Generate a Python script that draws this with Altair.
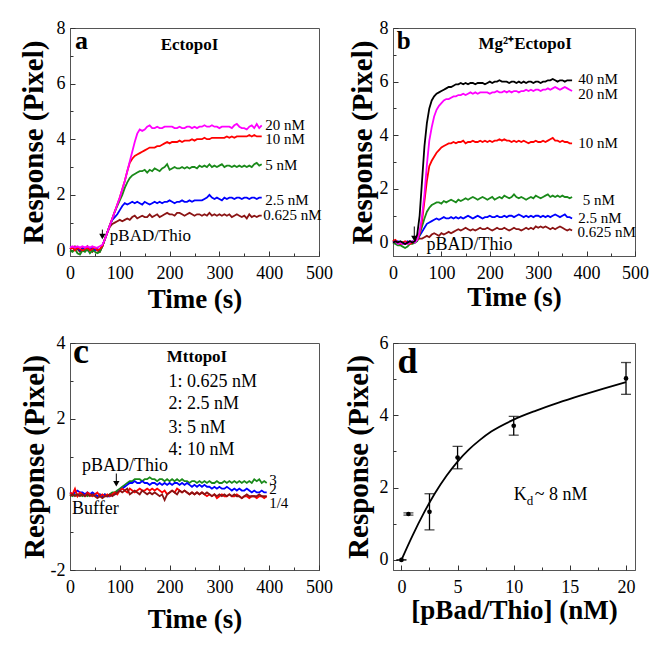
import altair as alt
import pandas as pd

FONT = "Liberation Serif"
MAG, RED, GRN, BLU, DRD, BLK = "#ff00ff", "#ff0000", "#1a8a1a", "#0000ff", "#8b1414", "#000000"

# ---------------- Panel a : EctopoI ----------------
ta = list(range(0, 390, 5))
a_0625 = [0.05,0.1,0.15,0.05,-0.05,0.1,0.0,0.15,0.05,-0.05,0.1,0.0,-0.05,
          0.15,0.4,0.65,0.85,0.95,1.0,1.05,1.1,1.05,1.1,1.15,1.1,1.2,1.25,1.15,1.2,
          1.25,1.2,1.2,1.3,1.2,1.25,1.3,1.2,1.25,1.3,1.35,1.3,1.3,1.25,1.35,1.35,1.3,1.25,1.3,1.35,
          1.3,1.25,1.3,1.3,1.25,1.3,1.25,1.35,1.25,1.3,1.25,1.3,1.25,1.3,1.25,1.3,1.2,1.25,1.3,1.25,
          1.2,1.25,1.15,1.3,1.2,1.25,1.2,1.25,1.25]
a_25 = [0.05,0.1,0.05,0.1,0.0,0.05,0.1,0.0,0.05,0.1,0.0,0.05,0.0,
        0.15,0.4,0.65,0.9,1.1,1.2,1.3,1.45,1.6,1.7,1.65,1.7,1.75,1.7,1.75,1.7,
        1.65,1.75,1.7,1.65,1.7,1.75,1.7,1.75,1.7,1.75,1.75,1.8,1.75,1.7,1.75,1.75,1.8,1.75,1.75,1.8,
        1.75,1.8,1.8,1.8,1.8,1.85,1.9,2.0,1.9,1.85,1.9,1.85,1.8,1.9,1.85,1.9,1.9,1.85,1.9,1.9,
        1.85,1.9,1.9,1.85,1.9,1.9,1.85,1.9,1.9]
a_5 = [0.0,-0.05,0.05,-0.1,-0.15,0.0,-0.05,0.05,-0.1,0.0,-0.05,-0.1,-0.05,
       0.15,0.4,0.65,0.9,1.15,1.4,1.6,1.8,2.0,2.25,2.45,2.6,2.7,2.75,2.8,2.85,
       2.85,2.9,2.8,2.9,2.85,2.95,2.9,2.85,2.95,3.0,3.1,2.9,2.95,3.0,2.95,2.95,3.0,2.95,3.0,2.95,
       3.0,3.0,2.95,3.05,3.0,3.05,3.0,3.1,3.0,3.05,3.0,3.05,3.1,3.0,3.05,3.05,3.0,3.05,3.0,3.05,
       3.0,3.05,3.0,3.05,3.0,3.1,3.15,3.05,3.1]
a_10 = [0.05,0.1,0.0,0.1,0.05,0.0,0.05,0.1,0.0,0.05,0.1,0.0,0.05,
        0.15,0.4,0.65,0.9,1.15,1.4,1.65,1.9,2.2,2.5,2.85,3.15,3.3,3.4,3.45,3.5,
        3.55,3.6,3.65,3.7,3.7,3.7,3.75,3.75,3.8,3.85,3.9,3.85,3.9,3.9,3.9,3.95,3.9,3.95,3.95,3.95,
        4.0,3.95,4.0,4.0,4.0,4.05,4.0,4.0,4.05,4.05,4.05,4.05,4.05,4.05,4.1,4.05,4.1,4.05,4.1,4.1,
        4.1,4.1,4.1,4.15,4.1,4.15,4.1,4.1,4.1]
a_20 = [0.1,0.15,0.1,0.15,0.1,0.15,0.1,0.15,0.1,0.15,0.1,0.1,0.15,
        0.2,0.4,0.65,0.9,1.15,1.4,1.65,1.9,2.2,2.5,2.85,3.2,3.55,3.9,4.2,4.35,
        4.3,4.35,4.45,4.5,4.4,4.4,4.45,4.4,4.4,4.45,4.45,4.45,4.45,4.4,4.4,4.45,4.4,4.4,4.45,4.45,
        4.4,4.45,4.4,4.45,4.45,4.5,4.45,4.45,4.5,4.45,4.45,4.4,4.45,4.45,4.45,4.45,4.4,4.5,4.55,4.45,
        4.4,4.4,4.35,4.45,4.5,4.4,4.55,4.4,4.5]

# ---------------- Panel b : Mg2+ EctopoI ----------------
tb = list(range(0, 375, 5))
b_40 = [0.0,0.05,0.0,0.05,0.0,-0.05,0.0,0.05,0.0,0.05,
        0.3,1.0,2.3,3.6,4.45,5.0,5.3,5.45,5.55,5.6,5.65,5.7,5.75,5.8,5.8,5.85,5.9,5.9,5.95,5.9,
        5.95,5.9,5.95,5.95,5.9,5.95,5.95,5.95,5.9,5.95,6.0,5.95,6.0,6.0,6.05,6.0,6.0,6.0,5.95,6.0,
        6.0,5.95,6.0,5.95,6.0,5.95,6.0,6.0,5.95,6.0,6.0,5.95,6.0,6.0,6.05,6.05,6.1,6.05,6.0,6.05,
        6.05,6.0,6.05,6.05,6.05]
b_20 = [0.0,0.05,-0.05,0.0,-0.05,0.0,-0.05,0.0,0.05,0.0,
        0.1,0.4,1.0,1.8,2.9,3.8,4.3,4.7,4.95,5.1,5.2,5.3,5.35,5.35,5.4,5.45,5.45,5.5,5.5,5.55,
        5.5,5.55,5.6,5.55,5.6,5.55,5.6,5.6,5.6,5.6,5.55,5.6,5.6,5.65,5.6,5.6,5.65,5.6,5.65,5.6,
        5.65,5.65,5.6,5.65,5.65,5.7,5.65,5.7,5.65,5.7,5.7,5.65,5.7,5.7,5.75,5.7,5.75,5.8,5.75,5.7,
        5.75,5.8,5.75,5.7,5.65]
b_10 = [0.05,0.1,0.0,-0.05,0.0,0.05,0.0,-0.05,0.0,0.05,
        0.1,0.35,0.8,1.55,2.3,2.85,3.05,3.2,3.35,3.45,3.55,3.6,3.65,3.7,3.7,3.75,3.7,3.75,3.75,3.8,
        3.7,3.75,3.75,3.8,3.75,3.75,3.8,3.75,3.8,3.75,3.8,3.75,3.8,3.8,3.85,3.8,3.85,3.8,3.8,3.75,
        3.8,3.75,3.8,3.75,3.8,3.75,3.7,3.75,3.75,3.8,3.75,3.75,3.8,3.75,3.8,3.85,3.9,3.8,3.8,3.75,
        3.8,3.75,3.75,3.7,3.7]
b_5 = [0.0,-0.05,-0.1,-0.1,-0.15,-0.2,-0.15,-0.05,-0.05,0.0,
       0.05,0.3,0.6,0.9,1.15,1.3,1.4,1.45,1.5,1.5,1.45,1.55,1.5,1.55,1.6,1.55,1.5,1.6,1.55,1.6,
       1.65,1.6,1.65,1.7,1.65,1.6,1.65,1.7,1.65,1.6,1.65,1.7,1.6,1.65,1.7,1.65,1.75,1.7,1.65,1.7,
       1.8,1.7,1.65,1.7,1.65,1.6,1.65,1.7,1.65,1.75,1.7,1.65,1.7,1.75,1.8,1.7,1.75,1.7,1.75,1.7,
       1.75,1.7,1.7,1.65,1.7]
b_25 = [0.05,0.0,0.05,0.0,-0.05,0.0,0.05,0.0,0.05,0.0,
        0.1,0.25,0.4,0.55,0.7,0.75,0.8,0.85,0.9,0.85,0.9,0.95,0.9,0.9,0.95,0.9,0.95,0.9,0.95,0.9,
        0.95,1.0,0.95,0.9,0.95,1.0,0.95,0.9,0.95,0.95,1.0,0.95,0.95,1.0,0.95,0.95,1.0,0.95,1.0,1.0,
        0.95,1.0,1.05,1.0,0.95,1.0,0.95,1.0,0.95,1.0,1.0,0.95,1.0,0.95,1.0,0.95,1.0,1.05,1.0,0.95,
        1.0,1.05,0.95,0.95,0.9]
b_0625 = [0.1,0.05,0.0,-0.05,0.0,-0.05,0.0,0.05,0.0,0.05,
          0.1,0.15,0.15,0.2,0.25,0.2,0.3,0.35,0.3,0.25,0.35,0.3,0.35,0.4,0.35,0.4,0.45,0.5,0.45,0.5,
          0.55,0.5,0.45,0.5,0.45,0.5,0.55,0.5,0.5,0.55,0.5,0.45,0.5,0.55,0.5,0.5,0.55,0.5,0.45,0.5,
          0.55,0.5,0.5,0.45,0.5,0.55,0.5,0.55,0.5,0.6,0.55,0.6,0.55,0.6,0.55,0.5,0.55,0.5,0.55,0.6,
          0.55,0.5,0.45,0.5,0.45]

# ---------------- Panel c : MttopoI ----------------
tc = list(range(0, 400, 5))
c_1 = [0.05,0.0,0.15,-0.05,0.05,0.0,-0.05,0.05,0.0,-0.05,
       0.0,0.05,-0.05,0.0,-0.05,0.0,-0.05,0.0,0.05,0.0,
       0.1,0.15,0.1,0.05,0.15,0.1,0.05,0.1,0.15,0.1,
       0.1,0.15,0.1,0.15,0.1,0.15,0.1,0.05,0.1,0.0,
       0.05,0.1,0.05,0.15,0.1,0.05,0.1,0.05,0.0,0.05,
       0.0,0.05,0.0,0.05,0.0,-0.05,0.0,-0.05,0.0,-0.1,
       -0.05,0.0,-0.05,-0.05,0.0,-0.05,-0.05,0.0,-0.05,-0.1,
       -0.05,-0.05,-0.1,-0.05,-0.05,-0.1,-0.05,-0.05,-0.1,-0.05]
c_2 = [0.05,0.0,0.05,0.1,0.05,0.05,0.0,0.05,0.0,0.05,
       0.0,-0.05,0.0,-0.05,0.0,-0.05,-0.05,0.0,0.0,0.05,
       0.1,0.15,0.2,0.25,0.3,0.3,0.35,0.3,0.3,0.35,
       0.3,0.3,0.25,0.3,0.3,0.25,0.3,0.25,0.3,0.25,
       0.3,0.25,0.3,0.3,0.25,0.3,0.25,0.3,0.25,0.2,
       0.25,0.2,0.25,0.2,0.25,0.2,0.2,0.15,0.2,0.15,
       0.2,0.15,0.15,0.2,0.15,0.1,0.15,0.1,0.15,0.1,
       0.1,0.15,0.1,0.05,0.1,0.05,0.05,0.1,0.05,0.05]
c_3 = [0.0,-0.05,0.0,-0.05,0.0,-0.05,0.0,-0.05,0.0,-0.05,
       0.0,-0.05,0.0,-0.05,0.0,-0.05,0.0,0.05,0.05,0.1,
       0.15,0.2,0.25,0.3,0.35,0.35,0.4,0.4,0.4,0.35,
       0.4,0.4,0.45,0.4,0.4,0.35,0.4,0.4,0.35,0.4,
       0.35,0.4,0.35,0.4,0.35,0.4,0.35,0.35,0.3,0.35,
       0.35,0.3,0.35,0.3,0.35,0.3,0.35,0.3,0.3,0.35,
       0.3,0.3,0.35,0.3,0.35,0.3,0.35,0.3,0.35,0.3,
       0.35,0.3,0.35,0.3,0.4,0.35,0.4,0.3,0.35,0.3]
c_4 = [-0.05,0.0,-0.05,0.0,-0.05,0.0,-0.05,0.0,-0.05,0.0,
       -0.05,-0.1,-0.05,-0.1,-0.05,-0.05,0.0,-0.05,0.0,0.05,
       0.1,0.05,0.1,0.15,0.0,0.05,0.1,0.05,0.0,0.1,
       0.05,0.0,0.05,0.0,0.05,0.0,-0.05,0.0,-0.15,0.0,
       0.05,0.1,0.05,0.0,0.1,0.05,0.1,0.05,0.0,0.05,
       0.0,0.05,0.0,0.05,0.0,0.05,0.0,-0.05,0.0,-0.05,
       0.0,-0.05,0.0,-0.05,0.0,-0.05,0.0,-0.05,-0.05,-0.1,
       -0.05,0.0,-0.05,-0.05,-0.05,-0.05,0.0,-0.05,-0.05,-0.05]

# ---------------- Panel d : binding curve ----------------
d_conc = [0, 0.625, 2.5, 5, 10, 20]
d_resp = [0.0, 1.27, 1.33, 2.83, 3.71, 5.02]
d_err = [0.0, 0.03, 0.5, 0.31, 0.26, 0.44]
fit_x = [0, 1, 2, 3, 4, 5, 6, 7, 8, 10, 12, 14, 16, 18, 20]
fit_y = [0, 0.68, 1.3, 1.85, 2.32, 2.72, 3.05, 3.32, 3.55, 3.88, 4.13, 4.35, 4.55, 4.74, 4.92]


# ---------------- helpers ----------------
def x_major(values, title, title_y):
    return alt.Axis(values=values, title=title, orient="bottom", grid=False,
                    labelFont=FONT, labelFontSize=18, labelColor="black", labelPadding=8,
                    labelFlush=False, labelOverlap=False,
                    ticks=False, tickSize=0, domainColor="#555",
                    titleFont=FONT, titleFontSize=27, titleFontWeight="bold", titleColor="black",
                    titleY=title_y, titleBaseline="middle", titleAlign="center")


def y_major(values, title, title_x, height, label_expr=None):
    kw = dict(values=values, title=title, orient="left", grid=False,
              labelFont=FONT, labelFontSize=18, labelColor="black", labelPadding=5,
              labelFlush=False, labelOverlap=False,
              ticks=False, tickSize=0, domainColor="#555",
              titleFont=FONT, titleFontSize=29, titleFontWeight="bold", titleColor="black",
              titleX=title_x, titleY=height / 2, titleAngle=270,
              titleBaseline="middle", titleAlign="center")
    if label_expr:
        kw["labelExpr"] = label_expr
    return alt.Axis(**kw)


def tick_axis(values, orient, size):
    # ticks drawn inward: axis pulled inside the frame by its own tick length
    return alt.Axis(values=values, orient=orient, labels=False, title=None, grid=False,
                    domain=False, tickSize=size, offset=-size, tickColor="#333", tickWidth=1)


def line(t, v, color, xs, ys, xaxis=None, yaxis=None, interp="linear"):
    df = pd.DataFrame({"t": t, "v": v})
    return alt.Chart(df).mark_line(color=color, strokeWidth=1.8, interpolate=interp).encode(
        x=alt.X("t:Q", scale=xs, axis=xaxis),
        y=alt.Y("v:Q", scale=ys, axis=yaxis))


def txt(rows, xs, ys, size, weight="normal", align="left", baseline="middle",
        dx=0, dy=0, xaxis=None, yaxis=None):
    df = pd.DataFrame(rows, columns=["x", "y", "label"])
    return alt.Chart(df).mark_text(font=FONT, fontSize=size, fontWeight=weight, align=align,
                                   baseline=baseline, dx=dx, dy=dy, color="black").encode(
        x=alt.X("x:Q", scale=xs, axis=xaxis),
        y=alt.Y("y:Q", scale=ys, axis=yaxis),
        text="label:N")


def arrow(t, y_top, y_tip, xs, ys):
    stem = alt.Chart(pd.DataFrame({"x": [t], "y1": [y_top], "y2": [y_tip]})).mark_rule(
        color="black", strokeWidth=1).encode(
        x=alt.X("x:Q", scale=xs, axis=None),
        y=alt.Y("y1:Q", scale=ys, axis=None), y2="y2:Q")
    head = alt.Chart(pd.DataFrame({"x": [t], "y": [y_tip]})).mark_point(
        shape="triangle-down", filled=True, size=40, color="black", opacity=1).encode(
        x=alt.X("x:Q", scale=xs, axis=None),
        y=alt.Y("y:Q", scale=ys, axis=None))
    return [stem, head]


W1, W2 = 249, 242
H1, H2 = 228, 227
TMAJ = [0, 100, 200, 300, 400, 500]
TMIN = [50, 150, 250, 350, 450]
YMAJ_AB = [0, 2, 4, 6, 8]
YMIN_AB = [1, 3, 5, 7]

# ---------------- Panel a ----------------
xa = alt.Scale(domain=[0, 500], nice=False, zero=False)
ya = alt.Scale(domain=[-0.2, 8], nice=False, zero=False)
pa_layers = [
    line(ta, a_0625, DRD, xa, ya, x_major(TMAJ, "Time (s)", 43),
         y_major(YMAJ_AB, "Response (Pixel)", -37, H1)),
    line(ta, a_25, BLU, xa, ya), line(ta, a_5, GRN, xa, ya),
    line(ta, a_10, RED, xa, ya), line(ta, a_20, MAG, xa, ya),
    txt([(240, 7.21, "EctopoI")], xa, ya, 17, "bold", "center", "alphabetic",
        xaxis=tick_axis(TMAJ, "bottom", 5), yaxis=tick_axis(YMAJ_AB, "left", 5)),
    txt([(10, 7.25, "a")], xa, ya, 26, "bold", "left", "alphabetic",
        xaxis=tick_axis(TMIN, "bottom", 3), yaxis=tick_axis(YMIN_AB, "left", 3)),
    txt([(392, 4.5, "20 nM"), (392, 4.0, "10 nM"), (392, 3.07, "5 nM"),
         (392, 1.82, "2.5 nM"), (388, 1.29, "0.625 nM")], xa, ya, 15),
    txt([(80, 0.53, "pBAD/Thio")], xa, ya, 17),
] + arrow(65, 0.75, 0.5, xa, ya)
pa = alt.layer(*pa_layers).resolve_axis(x="independent", y="independent").properties(width=W1, height=H1)

# ---------------- Panel b ----------------
xb = alt.Scale(domain=[0, 500], nice=False, zero=False)
yb = alt.Scale(domain=[-0.5, 8], nice=False, zero=False)
pb_layers = [
    line(tb, b_0625, DRD, xb, yb, x_major(TMAJ, "Time (s)", 41),
         y_major(YMAJ_AB, "Response (Pixel)", -31, H1)),
    line(tb, b_25, BLU, xb, yb), line(tb, b_5, GRN, xb, yb),
    line(tb, b_10, RED, xb, yb), line(tb, b_20, MAG, xb, yb), line(tb, b_40, BLK, xb, yb),
    txt([(273, 7.22, "Mg²⁺EctopoI")], xb, yb, 17, "bold", "center", "alphabetic",
        xaxis=tick_axis(TMAJ, "bottom", 5), yaxis=tick_axis(YMAJ_AB, "left", 5)),
    txt([(8, 7.22, "b")], xb, yb, 25, "bold", "left", "alphabetic",
        xaxis=tick_axis(TMIN, "bottom", 3), yaxis=tick_axis(YMIN_AB, "left", 3)),
    txt([(383, 6.09, "40 nM"), (383, 5.53, "20 nM"), (383, 3.72, "10 nM"),
         (392, 1.6, "5 nM"), (383, 0.92, "2.5 nM"), (381, 0.39, "0.625 nM")], xb, yb, 15),
    txt([(69, -0.1, "pBAD/Thio")], xb, yb, 18),
] + arrow(44, 0.6, 0.15, xb, yb)
pb = alt.layer(*pb_layers).resolve_axis(x="independent", y="independent").properties(width=W2, height=H1)

# ---------------- Panel c ----------------
xc = alt.Scale(domain=[0, 500], nice=False, zero=False)
yc = alt.Scale(domain=[-2, 4], nice=False, zero=False)
pc_layers = [
    line(tc, c_3, GRN, xc, yc, x_major(TMAJ, "Time (s)", 49),
         y_major([-2, 0, 2, 4], "Response (Pixel)", -36, H2, "'' + datum.value")),
    line(tc, c_2, BLU, xc, yc), line(tc, c_1, RED, xc, yc), line(tc, c_4, DRD, xc, yc),
    txt([(255, 3.5, "MttopoI")], xc, yc, 17, "bold", "center", "alphabetic",
        xaxis=tick_axis(TMAJ, "bottom", 5), yaxis=tick_axis([-2, 0, 2, 4], "left", 5)),
    txt([(6, 3.47, "c")], xc, yc, 36, "bold", "left", "alphabetic",
        xaxis=tick_axis(TMIN, "bottom", 3), yaxis=tick_axis([-1, 1, 3], "left", 3)),
    txt([(198, 2.97, "1: 0.625 nM"), (198, 2.4, "2: 2.5 nM"),
         (198, 1.76, "3: 5 nM"), (198, 1.18, "4: 10 nM")], xc, yc, 18),
    txt([(24, 0.76, "pBAD/Thio"), (4, -0.4, "Buffer")], xc, yc, 18),
    txt([(400, 0.38, "3"), (400, 0.13, "2"), (400, -0.24, "1/4")], xc, yc, 15),
] + arrow(93, 0.55, 0.28, xc, yc)
pc = alt.layer(*pc_layers).resolve_axis(x="independent", y="independent").properties(width=W1, height=H2)

# ---------------- Panel d ----------------
xd = alt.Scale(domain=[-0.75, 20.8], nice=False, zero=False)
yd = alt.Scale(domain=[-0.28, 6], nice=False, zero=False)
dd = pd.DataFrame({"c": d_conc, "r": d_resp, "e": d_err})
dd["lo"] = dd["r"] - dd["e"]
dd["hi"] = dd["r"] + dd["e"]
fit = line(fit_x, fit_y, BLK, xd, yd,
           x_major([0, 5, 10, 15, 20], "[pBad/Thio] (nM)", 40),
           y_major([0, 2, 4, 6], "Response (Pixel)", -35, H2), interp="monotone")
bars = alt.Chart(dd).mark_rule(color="black", strokeWidth=1.3).encode(
    x=alt.X("c:Q", scale=xd, axis=None), y=alt.Y("lo:Q", scale=yd, axis=None), y2="hi:Q")
cap_lo = alt.Chart(dd).mark_tick(color="black", orient="horizontal", size=10, thickness=1.3).encode(
    x=alt.X("c:Q", scale=xd, axis=None), y=alt.Y("lo:Q", scale=yd, axis=None))
cap_hi = alt.Chart(dd).mark_tick(color="black", orient="horizontal", size=10, thickness=1.3).encode(
    x=alt.X("c:Q", scale=xd, axis=None), y=alt.Y("hi:Q", scale=yd, axis=None))
pts = alt.Chart(dd).mark_point(filled=True, size=22, color="black", opacity=1).encode(
    x=alt.X("c:Q", scale=xd, axis=tick_axis([0, 5, 10, 15, 20], "bottom", 5)),
    y=alt.Y("r:Q", scale=yd, axis=tick_axis([0, 2, 4, 6], "left", 5)))
pd_layers = [
    fit, bars, cap_lo, cap_hi, pts,
    txt([(-0.36, 5.17, "d")], xd, yd, 36, "bold", "left", "alphabetic",
        xaxis=tick_axis([2.5, 7.5, 12.5, 17.5], "bottom", 3), yaxis=tick_axis([1, 3, 5], "left", 3)),
    txt([(10.0, 1.79, "K")], xd, yd, 18),
    txt([(10.0, 1.79, "d")], xd, yd, 13, dx=13, dy=6),
    txt([(10.0, 1.79, "~ 8 nM")], xd, yd, 18, dx=21),
]
pdn = alt.layer(*pd_layers).resolve_axis(x="independent", y="independent").properties(width=W2, height=H2)

chart = alt.concat(
    pa, pb, pc, pdn, columns=2, bounds="flush",
    spacing={"row": 87, "column": 74},
).properties(
    padding={"left": 10, "top": 10, "right": 5, "bottom": 5},
    background="white",
).configure_view(stroke="#555", strokeWidth=1)

chart.save("out.html", embed_options={"renderer": "svg", "actions": False})
